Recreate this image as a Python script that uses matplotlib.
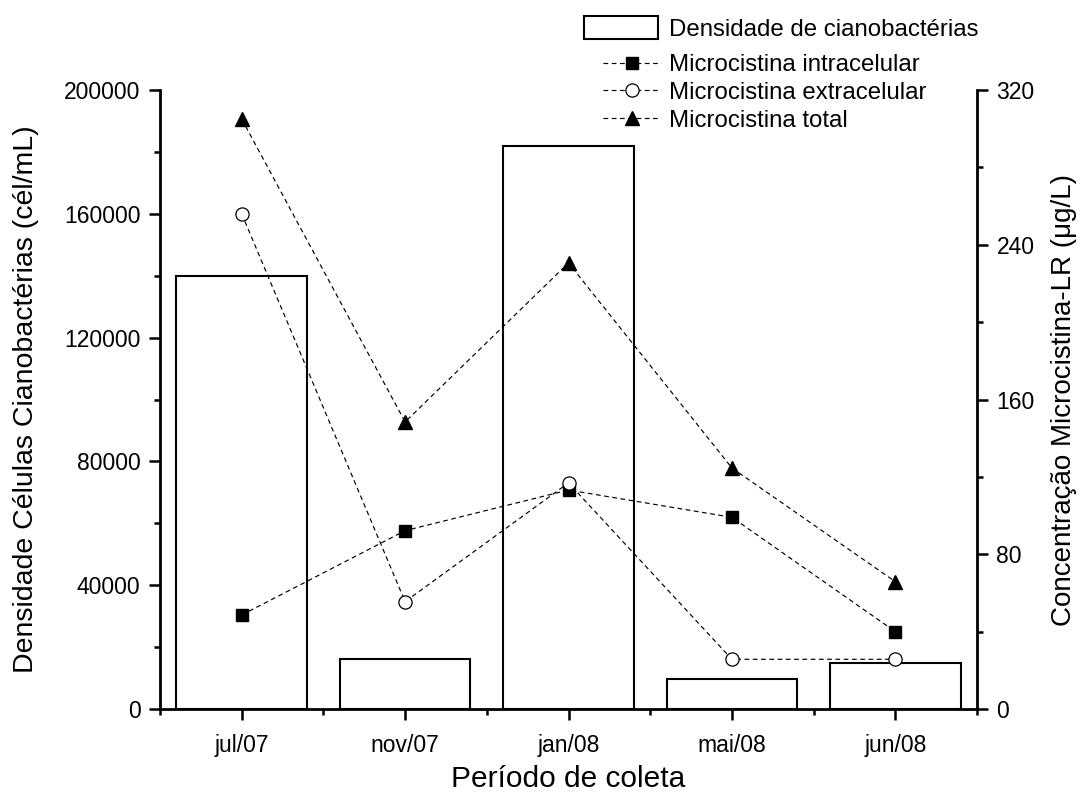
import matplotlib
matplotlib.use("Agg")
import matplotlib.pyplot as plt
from matplotlib.ticker import MultipleLocator
from matplotlib.legend_handler import HandlerPatch
from matplotlib.patches import Rectangle
import numpy as np

plt.rcParams['font.family'] = ['Liberation Sans', 'DejaVu Sans']

periods = ["jul/07", "nov/07", "jan/08", "mai/08", "jun/08"]
densidade = [140000, 16000, 182000, 9700, 15000]
mc_intra = [48.6, 92.2, 113.2, 99.1, 40.0]
mc_extra = [256.0, 55.5, 116.9, 25.7, 25.7]
mc_total = [305.0, 148.4, 230.6, 124.6, 65.8]

fig = plt.figure(figsize=(10.81, 7.96), dpi=100)
ax1 = fig.add_axes([160/1081, 1-709/796, (977-160)/1081, (709-90)/796])
ax2 = ax1.twinx()

x = np.arange(len(periods))
bars = ax1.bar(x, densidade, width=0.8, facecolor='white', edgecolor='black',
               linewidth=1.5, label='Densidade de cianobactérias')
ax1.set_xlim(-0.5, 4.5)
ax1.set_ylim(0, 200000)
ax2.set_ylim(0, 320)

dash = (0, (4, 3))
l1, = ax2.plot(x, mc_intra, color='black', lw=0.85, linestyle=dash, marker='s',
               markersize=8.5, markerfacecolor='black', markeredgecolor='black',
               label='Microcistina intracelular')
l2, = ax2.plot(x, mc_extra, color='black', lw=0.85, linestyle=dash, marker='o',
               markersize=9.5, markerfacecolor='white', markeredgecolor='black',
               markeredgewidth=0.9, label='Microcistina extracelular')
l3, = ax2.plot(x, mc_total, color='black', lw=0.85, linestyle=dash, marker='^',
               markersize=10.5, markerfacecolor='black', markeredgecolor='black',
               label='Microcistina total')

ax1.set_xticks(x)
ax1.set_xticklabels(periods)
ax1.set_xticks(np.arange(-0.5, 5.0, 1.0), minor=True)
ax1.yaxis.set_major_locator(MultipleLocator(40000))
ax1.yaxis.set_minor_locator(MultipleLocator(20000))
ax2.yaxis.set_major_locator(MultipleLocator(80))
ax2.yaxis.set_minor_locator(MultipleLocator(40))

for ax in (ax1, ax2):
    ax.spines['top'].set_visible(False)
    for s in ax.spines.values():
        s.set_linewidth(2.0)
    ax.tick_params(which='major', direction='out', length=8, width=1.8, labelsize=16.5, pad=6)
    ax.tick_params(which='minor', direction='out', length=4.5, width=1.8)
ax1.tick_params(axis='x', which='major', pad=10)
ax1.spines['right'].set_visible(False)
ax2.spines['left'].set_visible(False)
ax2.spines['bottom'].set_visible(False)

ax1.set_xlabel('Período de coleta', fontsize=21.5, labelpad=6)
ax1.set_ylabel('Densidade Células Cianobactérias (cél/mL)', fontsize=20.5, labelpad=18)
ax2.set_ylabel('Concentração Microcistina-LR (μg/L)', fontsize=20, labelpad=12)


def big_rect(legend, orig_handle, xdescent, ydescent, width, height, fontsize):
    return Rectangle((-xdescent - 14, -ydescent - 2), width + 12, height + 4)


bar_handle = bars.patches[0]
common = dict(loc='upper left', frameon=False, fontsize=17.3,
              handlelength=2.4, handletextpad=0.35, labelspacing=0.24,
              borderaxespad=0, borderpad=0)
leg1 = fig.legend(handles=[bar_handle], labels=['Densidade de cianobactérias'],
                  bbox_to_anchor=(603/1081, 1-19/796),
                  handler_map={Rectangle: HandlerPatch(patch_func=big_rect)},
                  **common)
leg2 = fig.legend(handles=[l1, l2, l3], bbox_to_anchor=(603/1081, 1-54/796), **common)

fig.savefig('out.png', dpi=100)
